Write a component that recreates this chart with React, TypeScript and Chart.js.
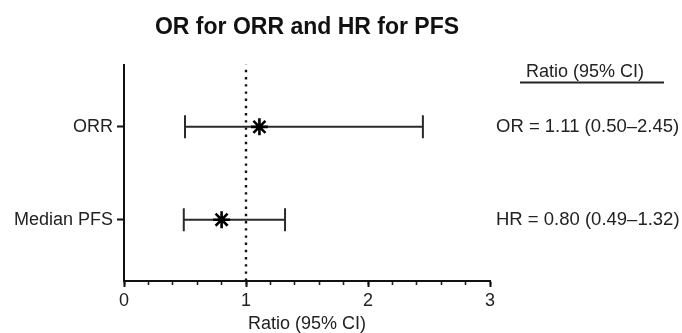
import React, { useEffect, useRef } from "react";
import { Chart, registerables } from "chart.js";

Chart.register(...registerables);

const chartTitle = "OR for ORR and HR for PFS";
const categories = ["ORR", "Median PFS"];
const estimates = [1.11, 0.8];
const lowerCI = [0.5, 0.49];
const upperCI = [2.45, 1.32];
const ratioLabels = ["OR = 1.11 (0.50–2.45)", "HR = 0.80 (0.49–1.32)"];
const ratioHeader = "Ratio (95% CI)";
const xAxisTitle = "Ratio (95% CI)";
const xTickValues = [0, 1, 2, 3];
const referenceValue = 1;
const xMin = 0;
const xMax = 3;
const yMin = 0.34;
const yMax = 2.67;

const FONT = "'Liberation Sans', Arial, Helvetica, sans-serif";

const rowOf = (i: number) => categories.length - i;

const headerPlugin = {
  id: "ratioHeader",
  afterDraw(chart: any) {
    const ctx = chart.ctx;
    const area = chart.chartArea;
    ctx.save();
    ctx.font = `18px ${FONT}`;
    ctx.fillStyle = "#222";
    ctx.textAlign = "center";
    ctx.textBaseline = "middle";
    const cx = area.right + 95;
    ctx.fillText(ratioHeader, cx, area.top + 7);
    ctx.strokeStyle = "#222";
    ctx.lineWidth = 2;
    ctx.beginPath();
    ctx.moveTo(cx - 65, area.top + 18);
    ctx.lineTo(cx + 79, area.top + 18);
    ctx.stroke();
    ctx.restore();
  },
};

export default function App() {
  const ref = useRef<HTMLCanvasElement>(null);

  useEffect(() => {
    document.body.style.margin = "0";
    const canvas = ref.current;
    if (!canvas) return;

    const errorSets = categories.map((c, i) => ({
      label: c + " CI",
      data: [
        { x: lowerCI[i], y: rowOf(i) },
        { x: upperCI[i], y: rowOf(i) },
      ],
      showLine: true,
      borderColor: "#2a2a2a",
      borderWidth: 2,
      pointStyle: "line",
      pointRotation: 90,
      pointRadius: 11.5,
      pointBorderWidth: 2,
      pointBorderColor: "#2a2a2a",
      pointHoverRadius: 11.5,
    }));

    const chart = new Chart(canvas, {
      type: "scatter",
      data: {
        datasets: [
          {
            label: "Estimate",
            data: categories.map((_, i) => ({ x: estimates[i], y: rowOf(i) })),
            pointStyle: "star",
            pointRadius: 8.5,
            pointBorderWidth: 2.6,
            pointBorderColor: "#000",
            borderColor: "#000",
            backgroundColor: "#000",
          },
          ...errorSets,
          {
            label: "Reference",
            data: [
              { x: referenceValue, y: yMin },
              { x: referenceValue, y: yMax },
            ],
            showLine: true,
            borderColor: "#111",
            borderWidth: 2.4,
            borderDash: [2.4, 4.8],
            pointRadius: 0,
            pointHoverRadius: 0,
          },
        ] as any,
      },
      options: {
        animation: false,
        responsive: false,
        maintainAspectRatio: false,
        layout: { padding: 0 },
        plugins: {
          legend: { display: false },
          tooltip: { enabled: false },
          title: {
            display: true,
            text: chartTitle,
            fullSize: false,
            color: "#111",
            font: { family: FONT, size: 23, weight: "bold" },
            padding: { top: 14, bottom: 23 },
          },
        },
        scales: {
          x2: {
            type: "linear",
            position: "bottom",
            weight: 0,
            min: xMin,
            max: xMax,
            ticks: { display: false, stepSize: 0.2 },
            grid: {
              drawOnChartArea: false,
              tickLength: 4,
              tickWidth: 1.6,
              tickColor: "#222",
            },
            border: { display: false },
            afterFit: (s: any) => {
              s.height = 0;
            },
          },
          x: {
            type: "linear",
            position: "bottom",
            weight: 1,
            min: xMin,
            max: xMax,
            afterBuildTicks: (s: any) => {
              s.ticks = xTickValues.map((v) => ({ value: v }));
            },
            ticks: {
              color: "#222",
              font: { family: FONT, size: 18 },
              padding: 3,
              maxRotation: 0,
            },
            grid: {
              drawOnChartArea: false,
              tickLength: 6,
              tickWidth: 2,
              tickColor: "#111",
            },
            border: { color: "#111", width: 2 },
            title: {
              display: true,
              text: xAxisTitle,
              color: "#222",
              font: { family: FONT, size: 18, lineHeight: 1 },
              padding: { top: 0, bottom: 0 },
            },
            afterFit: (s: any) => {
              s.height = 52;
            },
          },
          y: {
            type: "linear",
            position: "left",
            min: yMin,
            max: yMax,
            afterBuildTicks: (s: any) => {
              s.ticks = categories.map((_, i) => ({ value: rowOf(i) }));
            },
            ticks: {
              color: "#222",
              font: { family: FONT, size: 18 },
              padding: 4,
              callback: (v: any) => categories[categories.length - Number(v)],
            },
            grid: {
              drawOnChartArea: false,
              tickLength: 7,
              tickWidth: 2,
              tickColor: "#111",
            },
            border: { color: "#111", width: 2 },
            afterFit: (s: any) => {
              s.width = 124;
            },
          },
          y2: {
            type: "linear",
            position: "right",
            min: yMin,
            max: yMax,
            afterBuildTicks: (s: any) => {
              s.ticks = categories.map((_, i) => ({ value: rowOf(i) }));
            },
            ticks: {
              color: "#222",
              font: { family: FONT, size: 18.5 },
              padding: 6,
              callback: (v: any) => ratioLabels[categories.length - Number(v)],
            },
            grid: { display: false, drawTicks: false },
            border: { display: false },
            afterFit: (s: any) => {
              s.width = 192;
            },
          },
        },
      } as any,
      plugins: [headerPlugin],
    });

    return () => chart.destroy();
  }, []);

  return (
    <div style={{ position: "fixed", left: 0, top: 0, width: 682, height: 333, background: "#fff" }}>
      <canvas ref={ref} width={682} height={333} style={{ width: 682, height: 333 }} />
    </div>
  );
}
